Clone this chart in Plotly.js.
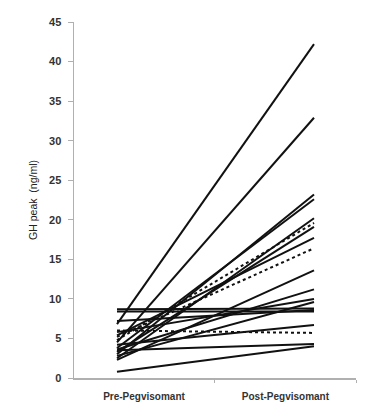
<!DOCTYPE html>
<html>
<head>
<meta charset="utf-8">
<script src="https://cdn.plot.ly/plotly-3.0.1.min.js"></script>
<style>html,body{margin:0;padding:0;background:#fff;}#chart{width:378px;height:413px;}</style>
</head>
<body>
<div id="chart"></div>
<script>
// Categories
var categories = ['Pre-Pegvisomant', 'Post-Pegvisomant'];
// Patients with solid lines: GH peak (ng/ml) before and after
var solidPre  = [6.8, 4.5, 3.0, 3.8, 2.5, 3.3, 5.4, 2.3, 3.6, 5.8, 2.8, 8.7, 7.2, 8.4, 4.2, 3.5, 0.8];
var solidPost = [42.2, 32.9, 23.2, 22.6, 20.2, 19.1, 17.7, 13.6, 11.2, 10.0, 9.6, 8.8, 8.6, 8.4, 6.7, 4.3, 4.0];
// Patients with dotted lines
var dottedPre  = [4.8, 5.2, 6.0];
var dottedPost = [19.6, 16.4, 5.7];
// Y-axis ticks
var yTicks = [0, 5, 10, 15, 20, 25, 30, 35, 40, 45];

var xIdx = categories.map(function (c, i) { return i; });
var traces = [];
function addLines(pre, post, dash) {
  for (var i = 0; i < pre.length; i++) {
    traces.push({
      type: 'scatter', mode: 'lines',
      x: xIdx, y: [pre[i], post[i]],
      line: {color: '#111', width: 2, dash: dash},
      hoverinfo: 'skip', showlegend: false
    });
  }
}
addLines(solidPre, solidPost, 'solid');
addLines(dottedPre, dottedPost, 'dot');

var layout = {
  width: 378, height: 413,
  margin: {l: 74, r: 22, t: 22, b: 35},
  paper_bgcolor: '#fff', plot_bgcolor: '#fff',
  showlegend: false,
  font: {family: 'Liberation Sans, Arial, sans-serif', color: '#333'},
  xaxis: {
    range: [-0.2183, 1.2132],
    showgrid: false, zeroline: false,
    showline: true, linecolor: '#b0b0b0', linewidth: 1.5,
    tickmode: 'array', tickvals: [0.137, 0.855], ticktext: categories,
    ticks: '', ticklabelstandoff: 8,
    tickfont: {size: 10, weight: 'bold', color: '#333'},
    minor: {tickvals: [0.497, 1.2132], ticks: 'outside', ticklen: 3, tickcolor: '#b0b0b0', tickwidth: 1, showgrid: false}
  },
  yaxis: {
    range: [0, 45],
    tickmode: 'array', tickvals: yTicks,
    showgrid: false, zeroline: false,
    showline: true, linecolor: '#b0b0b0', linewidth: 1.5,
    ticks: 'outside', ticklen: 5, tickcolor: '#b0b0b0', tickwidth: 1,
    ticklabelstandoff: 4,
    tickfont: {size: 11, weight: 'bold', color: '#333'},
    title: {text: 'GH peak  (ng/ml)', font: {size: 10.5, color: '#222'}, standoff: 9}
  }
};

Plotly.newPlot('chart', traces, layout, {displayModeBar: false, staticPlot: true});
</script>
</body>
</html>
